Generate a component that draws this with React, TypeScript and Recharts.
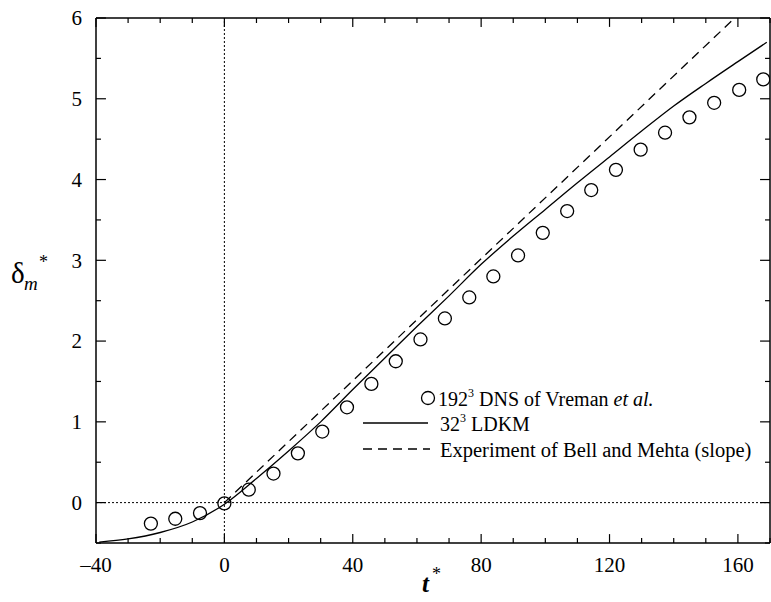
import { ComposedChart, Line, Scatter, XAxis, YAxis, ReferenceLine } from 'recharts';

const serif = '"Liberation Serif", "Times New Roman", serif';

// 192^3 DNS of Vreman et al. (open circles)
const dnsT = [-22.9, -15.3, -7.6, 0, 7.6, 15.3, 22.9, 30.5, 38.2, 45.8, 53.4, 61.1, 68.7, 76.3, 83.8, 91.5, 99.2, 106.8, 114.3, 122, 129.7, 137.3, 144.9, 152.6, 160.4, 167.9];
const dnsY = [-0.26, -0.2, -0.13, -0.01, 0.16, 0.36, 0.61, 0.88, 1.18, 1.47, 1.75, 2.02, 2.28, 2.54, 2.8, 3.06, 3.34, 3.61, 3.87, 4.12, 4.37, 4.58, 4.77, 4.95, 5.11, 5.24];

// 32^3 LDKM (solid)
const ldkmT = [-39, -30, -20, -10, 0, 10, 20, 30, 40, 50, 60, 70, 80, 90, 100, 110, 120, 130, 140, 150, 160, 169];
const ldkmY = [-0.49, -0.45, -0.37, -0.24, -0.02, 0.3, 0.64, 1.0, 1.4, 1.79, 2.18, 2.56, 2.95, 3.3, 3.63, 3.96, 4.28, 4.6, 4.91, 5.19, 5.46, 5.7];

// Experiment of Bell and Mehta (slope), dashed
const expT = [0, 159];
const expY = [0, 6];

const xTicks = [-40, -30, -20, -10, 0, 10, 20, 30, 40, 50, 60, 70, 80, 90, 100, 110, 120, 130, 140, 150, 160, 170];
const xLabels = [-40, 0, 40, 80, 120, 160];
const yTicks = [-0.5, 0, 0.5, 1, 1.5, 2, 2.5, 3, 3.5, 4, 4.5, 5, 5.5, 6];
const yLabels = [0, 1, 2, 3, 4, 5, 6];

const X_MIN = -40;
const X_MAX = 170;
const Y_MIN = -0.5;
const Y_MAX = 6;

// inward tick lengths, in axis units (~9/5 px vertical, ~10/5 px horizontal)
const XTICK_MAJ = 0.11;
const XTICK_MIN = 0.062;
const YTICK_MAJ = 3.1;
const YTICK_MIN = 1.55;

const dns = dnsT.map((x, i) => ({ x, y: dnsY[i] }));
const ldkm = ldkmT.map((x, i) => ({ x, y: ldkmY[i] }));
const exp = expT.map((x, i) => ({ x, y: expY[i] }));

const tickMarks: { id: string; seg: { x: number; y: number }[] }[] = [];
xTicks.forEach((t) => {
  const len = xLabels.includes(t) ? XTICK_MAJ : XTICK_MIN;
  tickMarks.push({ id: `b${t}`, seg: [{ x: t, y: Y_MIN }, { x: t, y: Y_MIN + len }] });
  tickMarks.push({ id: `t${t}`, seg: [{ x: t, y: Y_MAX }, { x: t, y: Y_MAX - len }] });
});
yTicks.forEach((v) => {
  const len = yLabels.includes(v) ? YTICK_MAJ : YTICK_MIN;
  tickMarks.push({ id: `l${v}`, seg: [{ x: X_MIN, y: v }, { x: X_MIN + len, y: v }] });
  tickMarks.push({ id: `r${v}`, seg: [{ x: X_MAX, y: v }, { x: X_MAX - len, y: v }] });
});

const fmt = (v: number) => (v < 0 ? `\u2013${Math.abs(v)}` : `${v}`);

function BottomTick(props: any) {
  const { x, y, payload } = props;
  if (!xLabels.includes(payload.value)) return <g />;
  return (
    <text x={x} y={y + 29} textAnchor="middle" fontFamily={serif} fontSize={21} fill="#000">
      {fmt(payload.value)}
    </text>
  );
}

function LeftTick(props: any) {
  const { x, y, payload } = props;
  if (!yLabels.includes(payload.value)) return <g />;
  return (
    <text x={x - 14} y={y} dy="0.35em" textAnchor="end" fontFamily={serif} fontSize={21} fill="#000">
      {payload.value}
    </text>
  );
}

const OpenCircle = (props: any) => (
  <circle cx={props.cx} cy={props.cy} r={6.5} fill="none" stroke="#000" strokeWidth={1.3} />
);

// axis titles and the boxed-free legend, laid over the chart
function Annotations() {
  return (
    <svg width={771} height={602} style={{ position: 'absolute', left: 0, top: 0, pointerEvents: 'none' }}>
      <g fontFamily={serif} fill="#000">
        <text x={11} y={283} fontSize={29}>δ</text>
        <text x={24} y={290} fontSize={19} fontStyle="italic">m</text>
        <text x={39} y={268} fontSize={18}>*</text>
        <text x={422} y={592} fontSize={25} fontStyle="italic" fontWeight="bold">t</text>
        <text x={432} y={580} fontSize={18}>*</text>
        <circle cx={428} cy={398} r={6.5} fill="none" stroke="#000" strokeWidth={1.3} />
        <text x={438} y={406} fontSize={20}>
          192<tspan fontSize={12} dy={-9}>3</tspan>
          <tspan dy={9}> DNS of Vreman </tspan>
          <tspan fontStyle="italic">et al.</tspan>
        </text>
        <line x1={363} y1={423} x2={428} y2={423} stroke="#000" strokeWidth={1.3} />
        <text x={440} y={431} fontSize={20}>
          32<tspan fontSize={12} dy={-9}>3</tspan>
          <tspan dy={9}> LDKM</tspan>
        </text>
        <line x1={363} y1={449} x2={430} y2={449} stroke="#000" strokeWidth={1.3} strokeDasharray="9 6" />
        <text x={440} y={457} fontSize={20.5}>Experiment of Bell and Mehta (slope)</text>
      </g>
    </svg>
  );
}

export default function App() {
  return (
    <div style={{ position: 'absolute', left: 0, top: 0, width: 771, height: 602, background: '#fff' }}>
      <ComposedChart width={771} height={602} margin={{ top: 18, right: 1, bottom: 0, left: 0 }}>
        <XAxis xAxisId="b" dataKey="x" type="number" domain={[X_MIN, X_MAX]} ticks={xTicks} interval={0} height={59}
          tickSize={0} tickMargin={0} tickLine={false} tick={<BottomTick />}
          axisLine={{ stroke: '#000', strokeWidth: 1.5 }} allowDataOverflow />
        <YAxis yAxisId="l" dataKey="y" type="number" domain={[Y_MIN, Y_MAX]} ticks={yTicks} interval={0} width={96}
          tickSize={0} tickMargin={0} tickLine={false} tick={<LeftTick />}
          axisLine={{ stroke: '#000', strokeWidth: 1.5 }} allowDataOverflow />

        {/* top and right frame edges */}
        <ReferenceLine xAxisId="b" yAxisId="l" y={Y_MAX} stroke="#000" strokeWidth={1.5} ifOverflow="visible" />
        <ReferenceLine xAxisId="b" yAxisId="l" x={X_MAX} stroke="#000" strokeWidth={1.5} ifOverflow="visible" />

        {/* inward tick marks on all four sides */}
        {tickMarks.map((m) => (
          <ReferenceLine key={m.id} xAxisId="b" yAxisId="l" stroke="#000" strokeWidth={1.2} ifOverflow="visible" segment={m.seg} />
        ))}

        <ReferenceLine xAxisId="b" yAxisId="l" x={0} stroke="#000" strokeWidth={1} strokeDasharray="2 2" />
        <ReferenceLine xAxisId="b" yAxisId="l" y={0} stroke="#000" strokeWidth={1} strokeDasharray="2 2" />
        <Line xAxisId="b" yAxisId="l" data={exp} dataKey="y" type="linear" stroke="#000" strokeWidth={1.3}
          strokeDasharray="9 6" dot={false} isAnimationActive={false} />
        <Line xAxisId="b" yAxisId="l" data={ldkm} dataKey="y" type="monotone" stroke="#000" strokeWidth={1.3}
          dot={false} isAnimationActive={false} />
        <Scatter xAxisId="b" yAxisId="l" data={dns} dataKey="y" shape={<OpenCircle />} isAnimationActive={false} />
      </ComposedChart>
      <Annotations />
    </div>
  );
}
